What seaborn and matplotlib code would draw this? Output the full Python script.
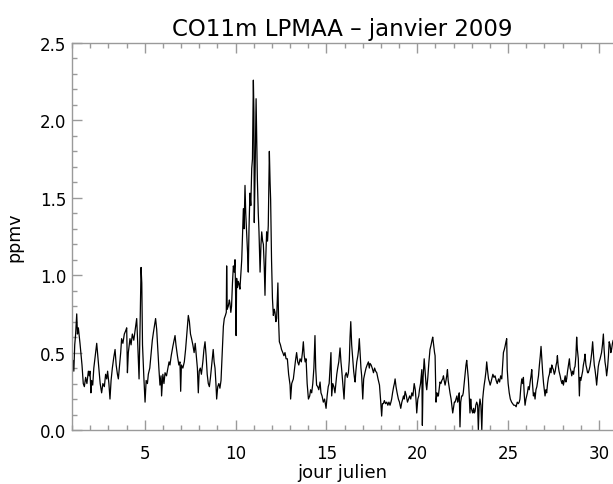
import matplotlib
matplotlib.use("Agg")
import matplotlib.pyplot as plt
import seaborn as sns
from matplotlib.ticker import MultipleLocator

title = "CO11m LPMAA \u2013 janvier 2009"
x_label = "jour julien"
y_label = "ppmv"
x_ticks = [5, 10, 15, 20, 25, 30]
y_ticks = [0.0, 0.5, 1.0, 1.5, 2.0, 2.5]

day = [
 1.00,1.05,1.10,1.15,1.20,1.26,1.30,1.35,1.44,1.50,1.55,1.62,1.68,1.75,1.82,1.90,1.95,1.99,2.04,2.08,
 2.14,2.20,2.28,2.36,2.42,2.48,2.55,2.63,2.70,2.78,2.85,2.91,2.96,3.03,3.09,3.15,3.22,3.30,3.37,3.43,
 3.50,3.55,3.62,3.68,3.73,3.80,3.88,3.95,4.01,4.05,4.10,4.19,4.25,4.32,4.40,4.48,4.56,4.62,4.69,4.75,
 4.80,4.84,4.88,4.95,5.02,5.08,5.15,5.20,5.28,5.36,5.42,5.48,5.55,5.60,5.66,5.72,5.78,5.84,5.90,5.93,
 6.00,6.06,6.12,6.20,6.28,6.34,6.39,6.46,6.55,6.62,6.67,6.72,6.80,6.88,6.94,6.98,7.02,7.10,7.18,7.25,
 7.32,7.40,7.46,7.52,7.58,7.65,7.72,7.78,7.84,7.90,7.95,8.00,8.06,8.12,8.20,8.26,8.32,8.38,8.44,8.50,
 8.56,8.62,8.70,8.77,8.82,8.87,8.92,8.96,9.02,9.08,9.14,9.20,9.26,
 9.33,9.38,9.44,9.49,9.51,9.54,9.60,9.66,9.69,9.74,9.78,9.83,9.88,9.93,9.97,10.00,10.03,10.06,10.11,10.15,
 10.20,10.24,10.29,10.34,10.38,10.43,10.47,10.52,10.56,10.61,10.66,10.70,10.74,10.79,10.84,10.89,10.93,10.98,11.01,11.03,
 11.08,11.13,11.17,11.20,11.25,11.29,11.35,11.40,11.44,11.49,11.53,11.58,11.62,11.66,11.71,11.76,11.80,11.86,11.90,11.93,
 11.98,12.03,12.08,
 12.13,12.17,12.22,12.26,12.33,12.37,12.41,12.47,12.53,12.60,12.66,12.72,12.78,12.85,12.92,13.00,13.03,13.09,13.18,13.25,
 13.30,13.36,13.42,13.48,13.55,13.62,13.68,13.73,13.78,13.83,13.88,13.94,14.01,14.08,14.13,14.19,14.25,14.31,14.37,14.41,
 14.46,14.52,14.58,14.65,14.70,14.76,14.83,14.90,14.98,15.04,15.10,15.15,15.20,15.25,15.29,15.35,15.41,15.47,15.52,15.57,
 15.62,15.68,15.75,15.80,15.84,15.90,15.97,16.03,16.09,16.15,16.21,16.26,16.30,16.34,16.39,16.45,16.50,16.55,16.58,16.62,
 16.67,16.73,16.77,16.81,16.86,16.90,16.94,17.00,17.05,17.12,17.18,17.24,17.31,17.36,17.40,17.46,17.52,17.59,17.65,17.71,
 17.77,17.84,17.92,17.99,18.04,18.08,18.13,18.19,18.25,18.32,18.38,18.44,18.50,18.55,18.59,18.64,18.70,18.74,18.78,18.83,
 18.89,18.96,19.02,19.09,19.15,19.20,19.24,19.28,19.33,19.40,19.46,19.52,19.58,19.64,19.70,19.76,19.83,19.89,19.94,19.97,
 20.03,20.08,20.12,20.18,20.25,20.28,20.32,20.38,20.44,20.48,20.52,20.58,20.64,20.70,20.76,20.81,20.85,20.90,20.95,20.98,
 21.03,21.08,21.12,21.16,21.20,21.25,21.30,21.35,21.40,21.44,21.48,21.53,21.58,21.62,21.66,21.70,21.75,21.80,21.86,21.90,
 21.95,22.00,22.04,22.08,22.13,22.18,22.22,22.26,22.31,22.35,22.39,22.44,22.49,22.53,22.58,22.63,22.68,22.72,22.76,22.81,
 22.86,22.90,22.94,22.98,23.02,23.05,23.10,23.14,23.18,23.22,23.27,23.32,23.36,23.40,23.45,23.50,23.55,23.60,23.64,23.68,
 23.73,23.78,23.82,23.87,23.92,23.97,24.01,24.06,24.10,24.16,24.22,24.28,24.34,24.40,24.47,24.53,24.59,24.65,24.70,24.74,
 24.79,24.83,24.88,24.92,24.95,25.00,25.06,25.12,25.19,25.25,25.31,25.38,25.44,25.50,25.56,25.61,25.65,25.70,25.75,25.80,
 25.84,25.89,25.93,25.98,26.02,26.06,26.11,26.16,26.21,26.26,26.30,26.34,26.39,26.44,26.48,26.53,26.58,26.63,26.67,26.72,
 26.77,26.81,26.86,26.90,26.95,26.99,27.03,27.08,27.12,27.17,27.22,27.27,27.31,27.36,27.40,27.45,27.49,27.54,27.59,27.64,
 27.68,27.71,27.75,27.80,27.86,27.91,27.96,28.00,28.04,28.09,28.14,28.18,28.22,28.27,28.32,28.37,28.41,28.46,28.50,28.55,
 28.60,28.64,28.68,28.73,28.77,28.81,28.86,28.92,28.96,29.00,29.05,29.10,29.14,29.19,29.23,29.28,29.32,29.37,29.41,29.46,
 29.50,29.55,29.60,29.65,29.70,29.74,29.78,29.83,29.87,29.92,29.96,30.01,30.06,30.10,30.14,30.19,30.24,30.28,30.33,30.38,
 30.42,30.47,30.52,30.56,30.61,30.65,30.69,30.74,30.78,
]

ppmv = [
 0.40,0.45,0.38,0.55,0.62,0.75,0.62,0.66,0.56,0.48,0.42,0.30,0.28,0.34,0.30,0.38,0.35,0.38,0.24,0.32,
 0.29,0.40,0.48,0.56,0.48,0.40,0.30,0.24,0.30,0.28,0.36,0.33,0.38,0.30,0.20,0.32,0.40,0.47,0.52,0.42,
 0.36,0.33,0.42,0.50,0.59,0.56,0.62,0.64,0.66,0.37,0.50,0.59,0.55,0.62,0.58,0.65,0.72,0.55,0.33,0.70,
 1.05,0.95,0.55,0.35,0.18,0.32,0.30,0.36,0.40,0.50,0.58,0.63,0.68,0.72,0.65,0.52,0.40,0.29,0.35,0.22,
 0.36,0.30,0.37,0.35,0.40,0.44,0.42,0.48,0.54,0.58,0.61,0.55,0.48,0.42,0.44,0.25,0.42,0.40,0.44,0.52,
 0.62,0.74,0.70,0.62,0.59,0.55,0.50,0.56,0.48,0.40,0.24,0.38,0.40,0.36,0.44,0.52,0.57,0.48,0.36,0.30,
 0.28,0.34,0.44,0.52,0.44,0.40,0.30,0.20,0.28,0.30,0.27,0.32,0.48,
 0.67,0.72,0.74,0.76,1.06,0.78,0.80,0.84,0.82,0.76,0.80,0.95,1.06,1.02,1.10,0.90,0.61,0.98,0.92,0.96,
 0.94,0.91,1.00,1.10,1.25,1.43,1.30,1.58,1.40,1.28,1.15,1.02,1.30,1.53,1.45,1.69,1.75,2.26,2.05,1.34,
 1.70,2.14,1.85,1.62,1.40,1.28,1.02,1.20,1.28,1.22,1.20,1.05,0.87,1.10,1.28,1.22,1.32,1.80,1.60,1.49,
 1.10,0.85,0.74,
 0.78,0.76,0.70,0.72,0.95,0.70,0.57,0.55,0.52,0.50,0.48,0.50,0.46,0.46,0.36,0.29,0.20,0.30,0.33,0.40,
 0.45,0.50,0.44,0.42,0.46,0.44,0.50,0.57,0.48,0.44,0.46,0.30,0.20,0.22,0.26,0.24,0.30,0.40,0.61,0.40,
 0.29,0.28,0.26,0.31,0.24,0.22,0.18,0.20,0.14,0.22,0.28,0.30,0.40,0.50,0.22,0.30,0.28,0.24,0.30,0.36,
 0.40,0.44,0.53,0.44,0.39,0.30,0.20,0.35,0.37,0.34,0.37,0.45,0.60,0.70,0.55,0.46,0.38,0.33,0.31,0.38,
 0.44,0.48,0.52,0.59,0.48,0.40,0.35,0.20,0.33,0.37,0.40,0.42,0.44,0.40,0.43,0.42,0.40,0.37,0.40,0.38,
 0.37,0.33,0.29,0.18,0.09,0.17,0.17,0.19,0.17,0.18,0.16,0.18,0.16,0.18,0.20,0.24,0.28,0.30,0.33,0.28,
 0.24,0.20,0.18,0.14,0.18,0.20,0.22,0.20,0.25,0.22,0.18,0.20,0.22,0.20,0.24,0.22,0.30,0.26,0.18,0.11,
 0.20,0.22,0.26,0.30,0.39,0.03,0.34,0.46,0.36,0.30,0.26,0.34,0.44,0.52,0.55,0.58,0.60,0.55,0.50,0.48,
 0.18,0.24,0.22,0.22,0.26,0.31,0.30,0.32,0.33,0.35,0.32,0.29,0.32,0.35,0.39,0.32,0.28,0.24,0.20,0.16,
 0.11,0.15,0.18,0.18,0.20,0.22,0.18,0.20,0.24,0.02,0.18,0.22,0.22,0.24,0.30,0.36,0.42,0.45,0.40,0.33,
 0.22,0.11,0.20,0.14,0.12,0.11,0.14,0.11,0.12,0.16,0.18,0.16,0.00,0.14,0.20,0.16,0.00,0.20,0.25,0.29,
 0.33,0.38,0.44,0.38,0.33,0.31,0.29,0.31,0.33,0.36,0.34,0.35,0.32,0.30,0.33,0.31,0.35,0.33,0.42,0.50,
 0.52,0.54,0.57,0.59,0.39,0.30,0.24,0.20,0.18,0.17,0.16,0.16,0.15,0.18,0.17,0.18,0.20,0.28,0.33,0.30,
 0.34,0.22,0.16,0.20,0.22,0.24,0.28,0.26,0.31,0.35,0.39,0.30,0.22,0.24,0.20,0.26,0.28,0.32,0.35,0.42,
 0.48,0.54,0.45,0.37,0.30,0.26,0.22,0.26,0.24,0.30,0.34,0.36,0.40,0.37,0.42,0.40,0.39,0.36,0.38,0.42,
 0.44,0.48,0.42,0.38,0.35,0.32,0.30,0.32,0.29,0.32,0.35,0.31,0.33,0.38,0.42,0.46,0.40,0.38,0.35,0.38,
 0.36,0.40,0.41,0.48,0.60,0.52,0.46,0.22,0.34,0.32,0.35,0.38,0.42,0.45,0.49,0.42,0.40,0.37,0.37,0.39,
 0.41,0.45,0.50,0.57,0.48,0.42,0.39,0.34,0.29,0.36,0.41,0.44,0.46,0.48,0.50,0.55,0.62,0.52,0.44,0.40,
 0.35,0.40,0.48,0.57,0.55,0.50,0.52,0.56,0.58,
]

sns.set_theme(style="white")
plt.rcParams["font.family"] = ["DejaVu Sans"]

fig = plt.figure(figsize=(6.13, 4.85), dpi=100)
ax = fig.add_axes([72/613, 54/485, 1 - 72/613, 387/485])

sns.lineplot(x=day, y=ppmv, ax=ax, color="black", linewidth=0.9,
             estimator=None, sort=False)

ax.set_xlim(1, 30.77)
ax.set_ylim(0, 2.5)
ax.set_xticks(x_ticks)
ax.set_yticks(y_ticks)
ax.set_yticklabels([f"{v:.1f}" for v in y_ticks])
ax.xaxis.set_minor_locator(MultipleLocator(1))
ax.yaxis.set_minor_locator(MultipleLocator(0.1))

spine_col = "#9a9a9a"
for s in ax.spines.values():
    s.set_color(spine_col)
    s.set_linewidth(1.0)
ax.spines["right"].set_visible(False)

ax.tick_params(which="both", direction="in", top=True, bottom=True, left=True, right=False,
               color=spine_col, labelsize=12, labelcolor="black")
ax.tick_params(which="major", length=7, width=1.0)
ax.tick_params(which="minor", length=3.6, width=1.0)
ax.tick_params(axis="x", which="major", pad=10)
ax.tick_params(axis="y", which="major", pad=4)

ax.set_xlabel(x_label, fontsize=13, color="black", labelpad=1)
ax.set_ylabel(y_label, fontsize=12.5, color="black", labelpad=12)
ax.set_title(title, fontsize=16.5, color="black", pad=6)

fig.savefig("out.png", dpi=100, facecolor="white")
